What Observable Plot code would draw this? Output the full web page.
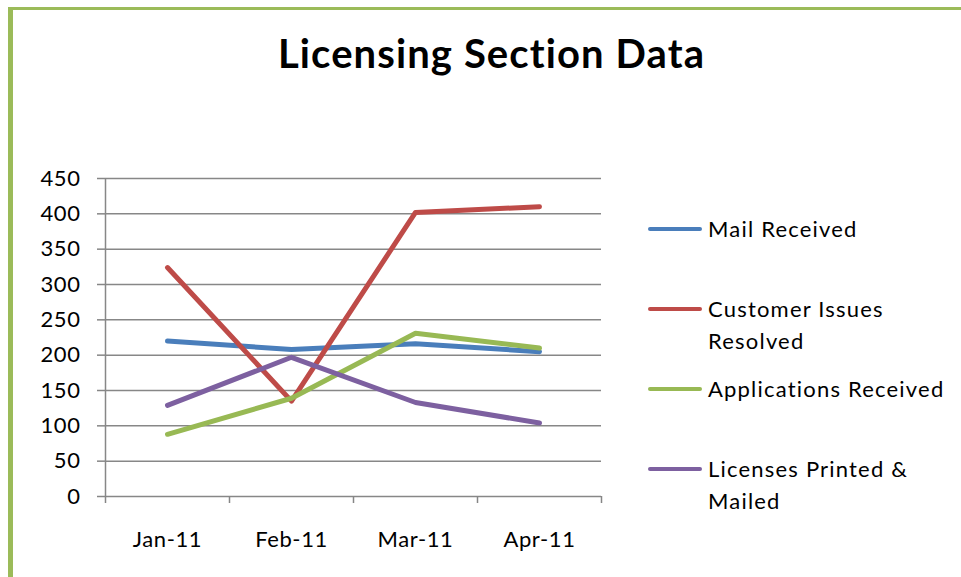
<!DOCTYPE html>
<html><head><meta charset="utf-8">
<script src="https://cdn.jsdelivr.net/npm/d3@7"></script>
<script src="https://cdn.jsdelivr.net/npm/@observablehq/plot@0.6"></script>
<style>
body{margin:0;background:#fff;font-family:Lato,"Open Sans",sans-serif}
#wrap{position:relative;width:961px;height:577px;overflow:hidden;background:#fff}
#bl{position:absolute;left:8px;top:7px;width:5px;height:570px;background:#9BBB59}
#bt{position:absolute;left:8px;top:7px;right:0;height:3px;background:#9BBB59}
#title{position:absolute;left:0;width:983px;top:28px;text-align:center;font-size:40px;letter-spacing:1.1px;font-weight:bold;color:#000;line-height:50px}
#chart{position:absolute;left:0;top:0}
.leg{position:absolute;left:648px;font-size:22px;letter-spacing:1.2px;color:#000;line-height:32px}
.leg .sw{position:absolute;left:0;width:54px;height:4px;border-radius:2px;top:14px}
.leg .tx{position:absolute;left:60px;top:0;width:280px}
</style>
</head><body>
<div id="wrap">
  <div id="bl"></div><div id="bt"></div>
  <div id="title">Licensing Section Data</div>
  <div id="chart"></div>
  <div id="legend"></div>
</div>
<script>
const months = ["Jan-11", "Feb-11", "Mar-11", "Apr-11"];
const seriesNames = ["Mail Received", "Customer Issues Resolved", "Applications Received", "Licenses Printed & Mailed"];
const legendLines = [["Mail Received"], ["Customer Issues", "Resolved"], ["Applications Received"], ["Licenses Printed &", "Mailed"]];
const mailReceived = [220, 208, 216, 205];
const customerIssues = [324, 135, 402, 410];
const applicationsReceived = [88, 139, 231, 210];
const licensesPrinted = [129, 197, 133, 104];
const colors = ["#4A7EBB", "#BE4B48", "#98B954", "#7D60A0"];
const yTicks = [0, 50, 100, 150, 200, 250, 300, 350, 400, 450];

const values = [mailReceived, customerIssues, applicationsReceived, licensesPrinted];
const rows = [];
seriesNames.forEach((s, k) => months.forEach((m, i) => rows.push({i, series: s, value: values[k][i]})));
const xIdx = months.map((m, i) => i);
const xBounds = [-0.5, ...months.map((m, i) => i + 0.5)];

const plot = Plot.plot({
  width: 961, height: 577,
  marginLeft: 105, marginRight: 360, marginTop: 178, marginBottom: 81,
  style: {fontSize: "22px", letterSpacing: "0.6px", fontFamily: "Lato, 'Open Sans', sans-serif", color: "#868686", background: "transparent"},
  x: {domain: [-0.5, months.length - 0.5]},
  y: {domain: [0, 450]},
  color: {domain: seriesNames, range: colors},
  marks: [
    Plot.ruleY(yTicks, {stroke: "#878787", strokeWidth: 1.5}),
    Plot.ruleX([-0.5], {stroke: "#878787", strokeWidth: 1.5}),
    Plot.axisY({ticks: yTicks, tickSize: 8, tickFormat: () => "", strokeWidth: 1.5, label: null}),
    Plot.axisY({ticks: yTicks, tickSize: 0, tickPadding: 25, fill: "#000", label: null}),
    Plot.axisX({ticks: xBounds, tickSize: 7, tickFormat: () => "", strokeWidth: 1.5, label: null}),
    Plot.axisX({ticks: xIdx, tickSize: 0, tickPadding: 35, tickFormat: i => months[i], fill: "#000", label: null}),
    Plot.line(rows, {x: "i", y: "value", z: "series", stroke: "series", strokeWidth: 5, strokeLinecap: "round", strokeLinejoin: "round"})
  ]
});
document.getElementById("chart").appendChild(plot);

const leg = document.getElementById("legend");
const legTops = [213, 293, 373, 453];
seriesNames.forEach((s, k) => {
  const d = document.createElement("div");
  d.className = "leg";
  d.style.top = legTops[k] + "px";
  d.innerHTML = `<div class="sw" style="background:${colors[k]}"></div><div class="tx">${legendLines[k].map(t => t.replace("&", "&amp;")).join("<br>")}</div>`;
  leg.appendChild(d);
});
</script>
</body></html>
